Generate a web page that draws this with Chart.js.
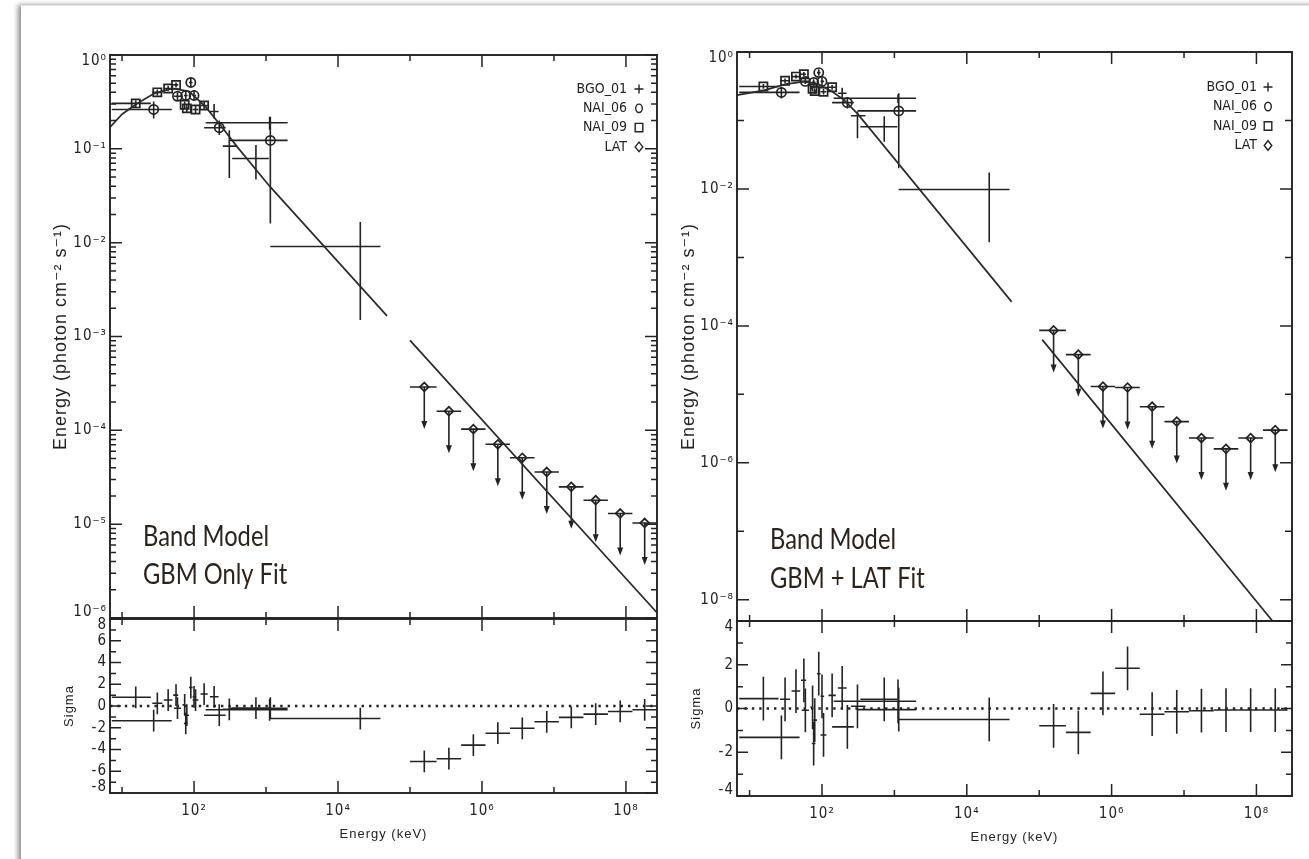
<!DOCTYPE html>
<html>
<head>
<meta charset="utf-8">
<title>Band model fits: GBM only and GBM + LAT</title>
<script src="https://cdn.jsdelivr.net/npm/chart.js@4.4.1/dist/chart.umd.min.js"></script>
<style>
  body { margin: 0; background: #fff; width: 1309px; height: 859px; overflow: hidden; position: relative; }
  .sheet { position: absolute; left: 21px; top: 5px; width: 1300px; height: 870px; background: #fff;
           box-shadow: -3px 0 5px rgba(0,0,0,0.45); border-top: 1px solid #e6e6e6; }
  canvas { position: absolute; }
</style>
</head>
<body>
<div class="sheet"></div>
<canvas id="gbmSpec" width="670" height="640" style="left:0;top:0"></canvas>
<canvas id="gbmSigma" width="670" height="259" style="left:0;top:600px"></canvas>
<canvas id="jointSpec" width="659" height="640" style="left:650px;top:0"></canvas>
<canvas id="jointSigma" width="659" height="259" style="left:650px;top:600px"></canvas>
<script>
const ink = '#232323';
const narrow = "'Liberation Sans Narrow', 'DejaVu Sans Condensed', 'Liberation Sans', sans-serif";
const plain = "'Liberation Sans', 'DejaVu Sans', sans-serif";

// axis ticks
const energyTicks = [1e1, 1e2, 1e3, 1e4, 1e5, 1e6, 1e7, 1e8];
const energyLabels = ['', '10²', '', '10⁴', '', '10⁶', '', '10⁸'];
const fluxTicksGbm = [1e-6, 1e-5, 1e-4, 1e-3, 1e-2, 1e-1, 1];
const fluxLabelsGbm = [['10⁻⁶', ''], '10⁻⁵', '10⁻⁴', '10⁻³', '10⁻²', '10⁻¹', ['', '10⁰']];
const fluxTicksJoint = [1e-8, 1e-7, 1e-6, 1e-5, 1e-4, 1e-3, 1e-2, 1e-1, 1];
const fluxLabelsJoint = ['10⁻⁸', '', '10⁻⁶', '', '10⁻⁴', '', '10⁻²', '', ['', '10⁰']];
const sigmaTicksGbm = [-8, -6, -4, -2, 0, 2, 4, 6, 8];
const sigmaLabelsGbm = [['-8', ''], '-6', '-4', '-2', '0', '2', '4', '6', ['', '8']];
const sigmaTicksJoint = [-4, -2, 0, 2, 4];
const sigmaLabelsJoint = [['-4', ''], '-2', '0', '2', ['', '4']];

// detector bins (keV): centre, low edge, high edge
const nai09Energy = [15.5, 30.9, 43.7, 56.2, 74.1, 79.4, 105, 138];
const nai09Lo = [7.2, 26.3, 38.0, 51.3, 69.2, 76.0, 95.5, 123];
const nai09Hi = [25.1, 36.3, 50.1, 60.3, 76.0, 85.1, 115, 155];
const nai06Energy = [27.5, 58.9, 76.7, 90.2, 100, 224, 1148];
const nai06Lo = [7.2, 52.5, 72.4, 85.1, 95.5, 138, 309];
const nai06Hi = [49.0, 66.1, 81.3, 95.5, 107, 275, 1995];
const bgoEnergy = [190, 309, 724, 1122, 20400];
const bgoLo = [166, 251, 339, 145, 1148];
const bgoHi = [219, 398, 1096, 1995, 38900];
const latEnergy = [1.58e5, 3.47e5, 7.59e5, 1.66e6, 3.63e6, 7.94e6, 1.74e7, 3.80e7, 8.32e7, 1.82e8];
const latLo = [1.0e5, 2.34e5, 5.13e5, 1.12e6, 2.45e6, 5.37e6, 1.17e7, 2.57e7, 5.62e7, 1.23e8];
const latHi = [2.34e5, 5.13e5, 1.12e6, 2.45e6, 5.37e6, 1.17e7, 2.57e7, 5.62e7, 1.23e8, 2.69e8];

// GBM-only fit
const nai09FluxGbm = [0.305, 0.40, 0.44, 0.48, 0.295, 0.27, 0.263, 0.29];
const nai09LowGbm = [0.28, 0.37, 0.41, 0.45, 0.27, 0.245, 0.24, 0.26];
const nai09HighGbm = [0.33, 0.43, 0.47, 0.51, 0.32, 0.295, 0.29, 0.32];
const nai06FluxGbm = [0.263, 0.363, 0.37, 0.51, 0.37, 0.168, 0.123];
const nai06LowGbm = [0.21, 0.33, 0.33, 0.46, 0.33, 0.14, 0.016];
const nai06HighGbm = [0.32, 0.40, 0.41, 0.57, 0.42, 0.20, 0.22];
const bgoFluxGbm = [0.25, 0.107, 0.079, 0.19, 0.0091];
const bgoLowGbm = [0.21, 0.049, 0.047, 0.16, 0.0015];
const bgoHighGbm = [0.30, 0.158, 0.11, 0.22, 0.0166];
const latLimitGbm = [2.9e-4, 1.6e-4, 1.03e-4, 7.1e-5, 5.1e-5, 3.6e-5, 2.5e-5, 1.8e-5, 1.3e-5, 1.03e-5];
const nai09SigmaGbm = [0.8, 0.25, 0.55, 1.0, 0.1, -0.85, 0.55, 1.1];
const nai06SigmaGbm = [-1.35, -0.2, -1.6, 1.7, 0.85, -0.85, -0.2];
const bgoSigmaGbm = [0.85, -0.3, -0.2, -0.35, -1.15];
const latSigmaGbm = [-5.1, -4.85, -3.6, -2.5, -2.05, -1.45, -1.05, -0.75, -0.5, -0.35];
const modelEnergyGbm = [6.8, 10, 15.8, 28.2, 50.1, 85.1, 145, 245, 398, 1122, 47900, 70000, 1.0e5, 2.7e8];
const modelFluxGbm = [0.17, 0.234, 0.30, 0.39, 0.44, 0.41, 0.28, 0.17, 0.105, 0.040, 0.00166, null, 9.1e-4, 1.14e-6];

// GBM + LAT fit
const nai09FluxJoint = [0.313, 0.38, 0.437, 0.473, 0.29, 0.27, 0.263, 0.305];
const nai09LowJoint = [0.29, 0.35, 0.41, 0.44, 0.265, 0.245, 0.24, 0.28];
const nai09HighJoint = [0.34, 0.41, 0.47, 0.51, 0.315, 0.295, 0.29, 0.33];
const nai06FluxJoint = [0.257, 0.372, 0.36, 0.50, 0.372, 0.182, 0.138];
const nai06LowJoint = [0.21, 0.34, 0.32, 0.45, 0.33, 0.15, 0.020];
const nai06HighJoint = [0.31, 0.41, 0.40, 0.56, 0.42, 0.22, 0.25];
const bgoFluxJoint = [0.25, 0.117, 0.081, 0.211, 0.0098];
const bgoLowJoint = [0.21, 0.055, 0.049, 0.18, 0.00166];
const bgoHighJoint = [0.30, 0.135, 0.115, 0.24, 0.0174];
const latLimitJoint = [8.6e-5, 3.8e-5, 1.3e-5, 1.26e-5, 6.6e-6, 4.0e-6, 2.3e-6, 1.6e-6, 2.3e-6, 3.0e-6];
const nai09SigmaJoint = [0.45, 0.42, 0.8, 1.29, 0.05, -0.53, -1.21, 0.6];
const nai06SigmaJoint = [-1.32, -0.08, -1.6, 1.59, 0.56, -0.84, -0.05];
const bgoSigmaJoint = [0.94, 0.1, 0.42, 0.33, -0.5];
const latSigmaJoint = [-0.79, -1.09, 0.69, 1.84, -0.26, -0.15, -0.1, -0.07, -0.07, -0.07];
const modelEnergyJoint = [6.7, 15.8, 31.6, 56.2, 89.1, 141, 200, 309, 41700, 70000, 1.1e5, 3.1e8];
const modelFluxJoint = [0.234, 0.275, 0.34, 0.37, 0.34, 0.26, 0.20, 0.126, 2.24e-4, null, 6.3e-5, 2.2e-9];

const legendSymbols = { BGO_01: 'plus', NAI_06: 'circle', NAI_09: 'square', LAT: 'diamond' };

const pts = (xs, ys) => xs.map((x, i) => ({ x, y: ys[i] }));

// tick marks: [value, length]
function logMarks(ticks, withMinor) {
  const marks = [];
  ticks.forEach(d => {
    const exp = Math.round(Math.log10(d));
    marks.push([d, withMinor || exp % 2 === 0 ? 12 : 7]);
    if (withMinor && d < 1) for (let k = 2; k < 10; k++) marks.push([k * d, 6]);
  });
  return marks;
}
function sigmaMarks(lo, hi) {
  const marks = [];
  for (let v = lo; v <= hi; v++) marks.push([v, v % 2 === 0 ? 11 : 6]);
  return marks;
}

function drawSymbol(ctx, kind, x, y) {
  ctx.beginPath();
  if (kind === 'plus') {
    ctx.moveTo(x - 4.5, y); ctx.lineTo(x + 4.5, y);
    ctx.moveTo(x, y - 4.5); ctx.lineTo(x, y + 4.5);
  } else if (kind === 'circle') {
    ctx.ellipse(x, y, 3.3, 4.2, 0, 0, Math.PI * 2);
  } else if (kind === 'square') {
    ctx.rect(x - 3.8, y - 4.2, 7.6, 8.4);
  } else {
    ctx.moveTo(x, y - 4.8); ctx.lineTo(x + 3.8, y); ctx.lineTo(x, y + 4.8); ctx.lineTo(x - 3.8, y);
    ctx.closePath();
  }
  ctx.stroke();
}

// error bars, upper-limit arrows and ±1 sigma bars
const errorBars = {
  id: 'errorBars',
  beforeDraw(chart) { chart.ctx.letterSpacing = '1px'; },
  beforeDatasetsDraw(chart) {
    const { ctx, chartArea: a, scales: { x, y } } = chart;
    ctx.save();
    ctx.beginPath();
    ctx.rect(a.left, a.top, a.right - a.left, a.bottom - a.top);
    ctx.clip();
    ctx.strokeStyle = ink;
    ctx.fillStyle = ink;
    ctx.lineWidth = 1.6;
    chart.data.datasets.forEach(ds => {
      if (!ds.xLo) return;
      ds.data.forEach((p, i) => {
        const px = x.getPixelForValue(p.x);
        const py = y.getPixelForValue(p.y);
        ctx.beginPath();
        ctx.moveTo(x.getPixelForValue(ds.xLo[i]), py);
        ctx.lineTo(x.getPixelForValue(ds.xHi[i]), py);
        if (ds.upperLimit) {
          ctx.moveTo(px, py);
          ctx.lineTo(px, py + 36);
        } else if (ds.sigmaBars) {
          ctx.moveTo(px, y.getPixelForValue(p.y - 1));
          ctx.lineTo(px, y.getPixelForValue(p.y + 1));
        } else {
          ctx.moveTo(px, y.getPixelForValue(ds.yLo[i]));
          ctx.lineTo(px, y.getPixelForValue(ds.yHi[i]));
        }
        ctx.stroke();
        if (ds.upperLimit) {
          ctx.beginPath();
          ctx.moveTo(px - 3, py + 34);
          ctx.lineTo(px + 3, py + 34);
          ctx.lineTo(px, py + 42);
          ctx.closePath();
          ctx.fill();
        }
      });
    });
    ctx.restore();
  }
};

// box, inward ticks on all four sides, legend and caption
function decorations(yMarks, extra) {
  return {
    id: 'decorations',
    afterDraw(chart) {
      const { ctx, chartArea: a, scales: { x, y } } = chart;
      ctx.save();
      ctx.letterSpacing = '0px';
      ctx.strokeStyle = ink;
      ctx.lineWidth = 1.9;
      ctx.strokeRect(a.left, a.top, a.right - a.left, a.bottom - a.top);
      ctx.lineWidth = 1.5;
      ctx.beginPath();
      energyTicks.forEach((v, i) => {
        const px = x.getPixelForValue(v);
        const len = i % 2 ? 12 : 6;
        ctx.moveTo(px, a.top); ctx.lineTo(px, a.top + len);
        ctx.moveTo(px, a.bottom); ctx.lineTo(px, a.bottom - len);
      });
      yMarks.forEach(([v, len]) => {
        const py = y.getPixelForValue(v);
        if (py < a.top - 0.5 || py > a.bottom + 0.5) return;
        ctx.moveTo(a.left, py); ctx.lineTo(a.left + len, py);
        ctx.moveTo(a.right, py); ctx.lineTo(a.right - len, py);
      });
      ctx.stroke();

      if (extra && extra.legend) {
        const lg = extra.legend;
        ctx.font = '14px ' + narrow;
        ctx.fillStyle = ink;
        ctx.textAlign = 'right';
        ctx.textBaseline = 'middle';
        ctx.lineWidth = 1.4;
        chart.data.datasets.filter(d => legendSymbols[d.label]).forEach((d, i) => {
          const ry = lg.top + i * lg.gap;
          ctx.fillText(d.label, lg.textX, ry);
          drawSymbol(ctx, legendSymbols[d.label], lg.symX, ry);
        });
      }
      if (extra && extra.caption) {
        const c = extra.caption;
        ctx.font = '28px Lato, ' + plain;
        ctx.fillStyle = '#2b241e';
        ctx.textAlign = 'left';
        ctx.textBaseline = 'alphabetic';
        const sx = c.width / ctx.measureText(c.lines[0]).width;
        c.lines.forEach((t, i) => {
          ctx.save();
          ctx.translate(c.x, c.y[i]);
          ctx.scale(sx, 1);
          ctx.fillText(t, 0, 0);
          ctx.restore();
        });
      }
      ctx.restore();
    }
  };
}

function detector(label, energy, lo, hi, flux, low, high, style, radius) {
  return {
    label, data: pts(energy, flux), xLo: lo, xHi: hi, yLo: low, yHi: high,
    pointStyle: style, pointRadius: radius, pointBorderWidth: 1.7,
    pointBorderColor: ink, pointBackgroundColor: 'rgba(0,0,0,0)'
  };
}

function residual(label, energy, lo, hi, sigma) {
  return { label, data: pts(energy, sigma), xLo: lo, xHi: hi, sigmaBars: true, pointRadius: 0 };
}

function spectrumChart(id, c) {
  return new Chart(document.getElementById(id), {
    type: 'scatter',
    data: {
      datasets: [
        { type: 'line', label: 'model', data: pts(c.modelE, c.modelF), borderColor: '#2a2a2a',
          borderWidth: 1.7, pointRadius: 0, spanGaps: false, fill: false },
        detector('BGO_01', bgoEnergy, bgoLo, bgoHi, c.bgo[0], c.bgo[1], c.bgo[2], 'cross', 0),
        detector('NAI_06', nai06Energy, nai06Lo, nai06Hi, c.nai06[0], c.nai06[1], c.nai06[2], 'circle', 4.6),
        detector('NAI_09', nai09Energy, nai09Lo, nai09Hi, c.nai09[0], c.nai09[1], c.nai09[2], 'rect', 5.8),
        Object.assign(detector('LAT', latEnergy, latLo, latHi, c.lat, null, null, 'rectRot', 4.4), { upperLimit: true })
      ]
    },
    options: {
      responsive: false,
      animation: false,
      events: [],
      layout: { padding: c.pad },
      plugins: { legend: { display: false }, tooltip: { enabled: false } },
      scales: {
        x: { type: 'logarithmic', display: false, min: c.xMin, max: c.xMax },
        y: {
          type: 'logarithmic', min: c.yMin, max: c.yMax,
          afterBuildTicks: s => { s.ticks = c.yTicks.map(v => ({ value: v })); },
          afterFit: s => { s.width = c.yWidth; },
          grid: { display: false, drawTicks: false },
          border: { display: false },
          ticks: { autoSkip: false, padding: 3, color: ink, font: { family: narrow, size: 15, lineHeight: 0.8 },
                   callback: (v, i) => c.yLabels[i] },
          title: { display: true, text: 'Energy (photon cm⁻² s⁻¹)', color: ink,
                   font: { family: plain, size: 18 }, padding: { top: c.titlePad, bottom: 0 } }
        }
      }
    },
    plugins: [errorBars, decorations(logMarks(c.yTicks, c.minor), c)]
  });
}

function sigmaChart(id, c) {
  return new Chart(document.getElementById(id), {
    type: 'scatter',
    data: {
      datasets: [
        { type: 'line', label: 'zero', data: [{ x: c.xMin, y: 0 }, { x: c.xMax, y: 0 }], borderColor: ink,
          borderWidth: 2.6, borderDash: [2.4, 5], pointRadius: 0, fill: false },
        residual('BGO_01', bgoEnergy, bgoLo, bgoHi, c.bgo),
        residual('NAI_06', nai06Energy, nai06Lo, nai06Hi, c.nai06),
        residual('NAI_09', nai09Energy, nai09Lo, nai09Hi, c.nai09),
        residual('LAT', latEnergy, latLo, latHi, c.lat)
      ]
    },
    options: {
      responsive: false,
      animation: false,
      events: [],
      layout: { padding: c.pad },
      plugins: { legend: { display: false }, tooltip: { enabled: false } },
      scales: {
        x: {
          type: 'logarithmic', min: c.xMin, max: c.xMax,
          afterBuildTicks: s => { s.ticks = energyTicks.map(v => ({ value: v })); },
          afterFit: s => { s.height = c.xHeight; },
          grid: { display: false, drawTicks: false },
          border: { display: false },
          ticks: { autoSkip: false, maxRotation: 0, minRotation: 0, padding: 9, color: ink,
                   font: { family: narrow, size: 15 }, callback: (v, i) => energyLabels[i] },
          title: { display: true, text: 'Energy (keV)', color: ink, font: { family: plain, size: 13 },
                   padding: { top: 0, bottom: c.xTitlePad } }
        },
        y: {
          min: c.yMin, max: c.yMax,
          afterBuildTicks: s => { s.ticks = c.yTicks.map(v => ({ value: v })); },
          afterFit: s => { s.width = c.yWidth; },
          grid: { display: false, drawTicks: false },
          border: { display: false },
          ticks: { autoSkip: false, padding: 3, color: ink, font: { family: narrow, size: 15, lineHeight: 0.8 },
                   callback: (v, i) => c.yLabels[i] },
          title: { display: true, text: 'Sigma', color: ink, font: { family: plain, size: 13 },
                   padding: { top: c.titlePad, bottom: 0 } }
        }
      }
    },
    plugins: [errorBars, decorations(sigmaMarks(c.yMin, c.yMax), null)]
  });
}

spectrumChart('gbmSpec', {
  xMin: 6.8, xMax: 2.7e8, yMin: 1e-6, yMax: 1,
  yTicks: fluxTicksGbm, yLabels: fluxLabelsGbm, minor: true,
  yWidth: 110, titlePad: 50, pad: { left: 0, top: 55, right: 13, bottom: 22 },
  modelE: modelEnergyGbm, modelF: modelFluxGbm,
  bgo: [bgoFluxGbm, bgoLowGbm, bgoHighGbm],
  nai06: [nai06FluxGbm, nai06LowGbm, nai06HighGbm],
  nai09: [nai09FluxGbm, nai09LowGbm, nai09HighGbm],
  lat: latLimitGbm,
  legend: { textX: 627, symX: 639, top: 89, gap: 19.3 },
  caption: { lines: ['Band Model', 'GBM Only Fit'], x: 143, y: [546, 584], width: 126 }
});

sigmaChart('gbmSigma', {
  xMin: 6.8, xMax: 2.7e8, yMin: -8, yMax: 8,
  yTicks: sigmaTicksGbm, yLabels: sigmaLabelsGbm,
  yWidth: 110, titlePad: 62, xHeight: 66, xTitlePad: 17,
  pad: { left: 0, top: 19, right: 13, bottom: 0 },
  bgo: bgoSigmaGbm, nai06: nai06SigmaGbm, nai09: nai09SigmaGbm, lat: latSigmaGbm
});

spectrumChart('jointSpec', {
  xMin: 6.7, xMax: 3.1e8, yMin: 4.9e-9, yMax: 1,
  yTicks: fluxTicksJoint, yLabels: fluxLabelsJoint, minor: false,
  yWidth: 87, titlePad: 28, pad: { left: 0, top: 52, right: 17, bottom: 19 },
  modelE: modelEnergyJoint, modelF: modelFluxJoint,
  bgo: [bgoFluxJoint, bgoLowJoint, bgoHighJoint],
  nai06: [nai06FluxJoint, nai06LowJoint, nai06HighJoint],
  nai09: [nai09FluxJoint, nai09LowJoint, nai09HighJoint],
  lat: latLimitJoint,
  legend: { textX: 607, symX: 618, top: 87, gap: 19.5 },
  caption: { lines: ['Band Model', 'GBM + LAT Fit'], x: 120, y: [549, 588], width: 126 }
});

sigmaChart('jointSigma', {
  xMin: 6.7, xMax: 3.1e8, yMin: -4, yMax: 4,
  yTicks: sigmaTicksJoint, yLabels: sigmaLabelsJoint,
  yWidth: 87, titlePad: 39, xHeight: 63, xTitlePad: 14,
  pad: { left: 0, top: 21, right: 17, bottom: 0 },
  bgo: bgoSigmaJoint, nai06: nai06SigmaJoint, nai09: nai09SigmaJoint, lat: latSigmaJoint
});
</script>
</body>
</html>
